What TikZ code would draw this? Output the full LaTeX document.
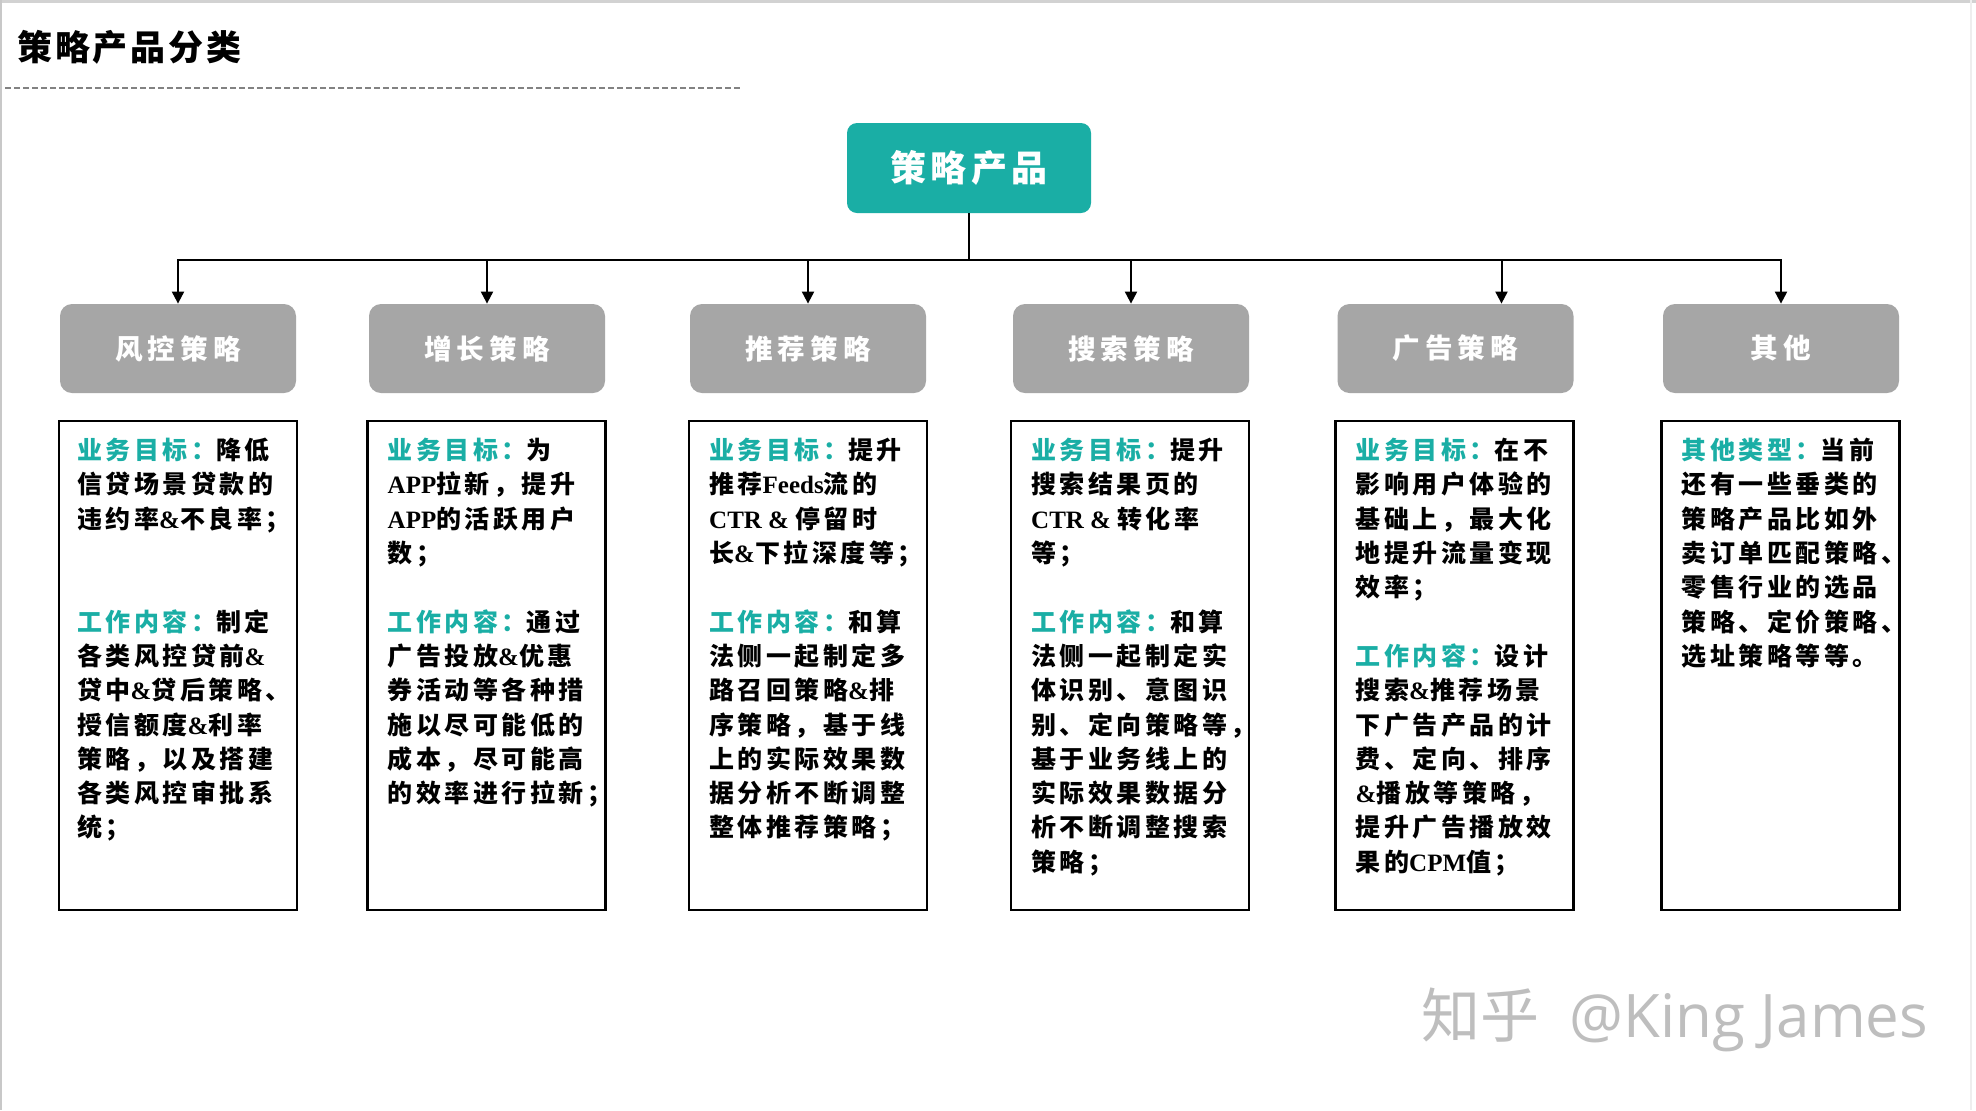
\documentclass[tikz,border=0pt]{standalone}
\usepackage{fontspec}
\usetikzlibrary{arrows.meta}
\newfontfamily\cjk{Noto Sans CJK SC}[LetterSpace=14]
\newfontfamily\cjkh{Noto Sans CJK SC}[LetterSpace=18]
\newfontfamily\cjkm{Noto Sans CJK SC}[LetterSpace=12]
\newfontfamily\cjkt{Noto Sans CJK SC}[LetterSpace=8]
\newfontfamily\cjkw{Noto Sans CJK SC}
\newfontfamily\lat{Liberation Serif}
\newfontfamily\wmlat{Open Sans}
\definecolor{tealc}{RGB}{26,174,165}
\definecolor{grayc}{RGB}{166,166,166}
\definecolor{wmc}{RGB}{190,190,190}
\newcommand\A{{\lat\&}}
\newcommand\Lt[1]{{\lat #1}}
\newcommand\T[1]{\textcolor{tealc}{#1}}
\tikzset{
  x=0.5pt, y=-0.5pt,
  mainbox/.style={fill=tealc, rounded corners=5pt, minimum width=122pt, minimum height=45pt,
    text=white, font=\cjkm\bfseries\fontsize{18}{20}\selectfont, inner sep=0pt},
  headbox/.style={fill=grayc, rounded corners=6pt, minimum width=118pt, minimum height=44.5pt,
    text=white, font=\cjkh\bfseries\fontsize{13.8}{16}\selectfont, inner sep=0pt},
  textbox/.style={draw=black, line width=1.2pt, minimum width=119pt, minimum height=244.5pt, inner sep=0pt},
  bodytext/.style={anchor=north west, inner sep=0pt, align=left,
    font=\cjk\bfseries\fontsize{12.5}{17.15}\selectfont},
  arr/.style={line width=1pt, -{Triangle[length=6pt,width=6pt]}},
  conn/.style={line width=1pt}
}
\begin{document}
\begin{tikzpicture}
\useasboundingbox (0,0) rectangle (1976,1110);
\fill[white] (0,0) rectangle (1976,1110);
% frame
\draw[color={rgb,255:red,210;green,210;blue,210}, line width=1.5pt] (0,1.5) -- (1976,1.5);
\draw[color={rgb,255:red,200;green,200;blue,200}, line width=1pt] (1,0) -- (1,1110);
\draw[color={rgb,255:red,238;green,238;blue,238}, line width=0.6pt] (1971,0) -- (1971,1110);

% title
\node[anchor=west, inner sep=0pt, font=\cjkt\bfseries\fontsize{17.5}{19}\selectfont] (title) at (17,47) {策略产品分类};
\draw[color={rgb,255:red,130;green,130;blue,130}, line width=0.7pt, dash pattern=on 3pt off 1.5pt] (5,88) -- (743,88);

% main node
\node[mainbox] (main) at (969,168) {策略产品};
\coordinate (bar) at (969,260);

% heading boxes
\node[headbox] (g1) at (178,348.5) {风控策略};
\node[headbox] (g2) at (487,348.5) {增长策略};
\node[headbox] (g3) at (808,348.5) {推荐策略};
\node[headbox] (g4) at (1131,348.5) {搜索策略};
\node[headbox] (g5) at (1455.5,348.5) {广告策略};
\node[headbox] (g6) at (1781,348.5) {其他};
\coordinate (a5) at ([xshift=23pt]g5.north);

% connectors
\draw[conn] (main.south) -- (bar);
\draw[arr] (bar) -| (g1.north);
\draw[arr] (bar) -| (g2.north);
\draw[arr] (bar) -| (g3.north);
\draw[arr] (bar) -| (g4.north);
\draw[arr] (bar) -| (a5);
\draw[arr] (bar) -| (g6.north);

% text boxes
\node[textbox] (b1) at (178,665.5) {};
\node[textbox] (b2) at (486.5,665.5) {};
\node[textbox] (b3) at (808,665.5) {};
\node[textbox] (b4) at (1130,665.5) {};
\node[textbox] (b5) at (1454.5,665.5) {};
\node[textbox] (b6) at (1780.5,665.5) {};

\node[bodytext] (t1) at ([xshift=9.5pt,yshift=-9pt]b1.north west) {%
\T{业务目标：}降低\\
信贷场景贷款的\\
违约率\A 不良率；\\[34.3pt]
\T{工作内容：}制定\\
各类风控贷前\A\\
贷中\A 贷后策略、\\
授信额度\A 利率\\
策略，以及搭建\\
各类风控审批系\\
统；};

\node[bodytext] (t2) at ([xshift=10.5pt,yshift=-9pt]b2.north west) {%
\T{业务目标：}为\\
\Lt{APP}拉新，提升\\
\Lt{APP}的活跃用户\\
数；\\[17.15pt]
\T{工作内容：}通过\\
广告投放\A 优惠\\
券活动等各种措\\
施以尽可能低的\\
成本，尽可能高\\
的效率进行拉新；};

\node[bodytext] (t3) at ([xshift=10.5pt,yshift=-9pt]b3.north west) {%
\T{业务目标：}提升\\
推荐\Lt{Feeds}流的\\
\Lt{CTR \& }停留时\\
长\A 下拉深度等；\\[17.15pt]
\T{工作内容：}和算\\
法侧一起制定多\\
路召回策略\A 排\\
序策略，基于线\\
上的实际效果数\\
据分析不断调整\\
整体推荐策略；};

\node[bodytext] (t4) at ([xshift=10.5pt,yshift=-9pt]b4.north west) {%
\T{业务目标：}提升\\
搜索结果页的\\
\Lt{CTR \& }转化率\\
等；\\[17.15pt]
\T{工作内容：}和算\\
法侧一起制定实\\
体识别、意图识\\
别、定向策略等，\\
基于业务线上的\\
实际效果数据分\\
析不断调整搜索\\
策略；};

\node[bodytext] (t5) at ([xshift=10.5pt,yshift=-9pt]b5.north west) {%
\T{业务目标：}在不\\
影响用户体验的\\
基础上，最大化\\
地提升流量变现\\
效率；\\[17.15pt]
\T{工作内容：}设计\\
搜索\A 推荐场景\\
下广告产品的计\\
费、定向、排序\\
\A 播放等策略，\\
提升广告播放效\\
果的\Lt{CPM}值；};

\node[bodytext] (t6) at ([xshift=10.5pt,yshift=-9pt]b6.north west) {%
\T{其他类型：}当前\\
还有一些垂类的\\
策略产品比如外\\
卖订单匹配策略、\\
零售行业的选品\\
策略、定价策略、\\
选址策略等等。};

% watermark
\node[inner sep=0pt, text=wmc, anchor=west] (wm) at (1421,1020) {{\cjkw\fontsize{29.5}{32}\selectfont 知乎}\hspace{15pt}{\wmlat\fontsize{30}{32}\selectfont @King James}};
\end{tikzpicture}
\end{document}
